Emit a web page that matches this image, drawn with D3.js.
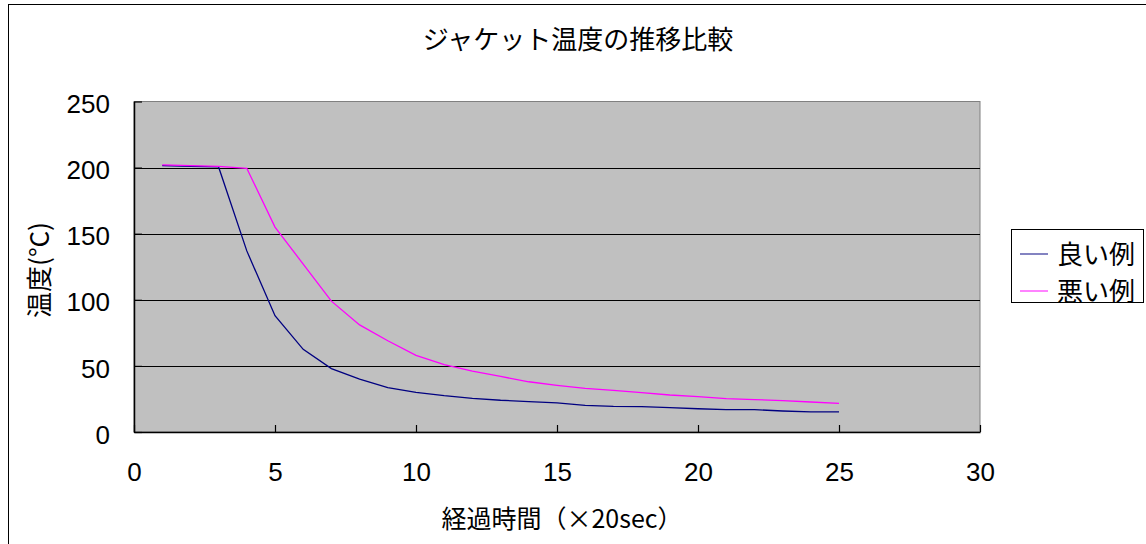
<!DOCTYPE html>
<html>
<head>
<meta charset="utf-8">
<script src="https://cdn.jsdelivr.net/npm/d3@7"></script>
<style>
  html, body { margin: 0; padding: 0; background: #ffffff; }
  svg { display: block; }
  text { fill: #000; }
</style>
</head>
<body>
<script>
// Elapsed time steps (x 20 sec)
const steps = [1,2,3,4,5,6,7,8,9,10,11,12,13,14,15,16,17,18,19,20,21,22,23,24,25];
// Jacket temperature (°C) – good example
const goodTemps = [201.5,201,200.5,137,88,62.5,48,40,33.5,30,27.5,25.5,24,23,22,20.2,19.4,19.2,18.4,17.6,16.9,16.9,15.9,15.2,15.2];
// Jacket temperature (°C) – bad example
const badTemps = [202,201.5,201,199.5,155,127,99,81,69,58,51,46,42,38,35.3,33,31.5,29.8,28,26.7,25.2,24.5,23.7,22.7,21.7];
const seriesNames = ["良い例", "悪い例"];
const xTicks = [0,5,10,15,20,25,30];
const yTicks = [0,50,100,150,200,250];
const titleText = "ジャケット温度の推移比較";
const xTitle = "経過時間（×20sec）";
const yTitle = "温度(°C)";

const W = 1146, H = 544;
const plotL = 134, plotR = 980, plotT = 101.5, plotB = 432;
const colors = ["#000080", "#FF00FF"];
const jpFont = "'Noto Sans CJK JP', sans-serif";
const numFont = "'Liberation Sans', Arial, sans-serif";

const svg = d3.select("body").append("svg").attr("width", W).attr("height", H);

// Outer chart frame
svg.append("rect").attr("x", 8.5).attr("y", 4.5).attr("width", W + 20).attr("height", H + 20)
  .attr("fill", "#fff").attr("stroke", "#000").attr("stroke-width", 1);

const x = d3.scaleLinear().domain([0, 30]).range([plotL, plotR]);
const y = d3.scaleLinear().domain([0, 250]).range([plotB, plotT]);

// Plot area
svg.append("rect").attr("x", plotL).attr("y", plotT).attr("width", plotR - plotL).attr("height", plotB - plotT)
  .attr("fill", "#C0C0C0").attr("stroke", "#808080").attr("stroke-width", 1);

// Horizontal gridlines
svg.append("g").selectAll("line").data(yTicks.filter(d => d > 0 && d < 250)).join("line")
  .attr("x1", plotL).attr("x2", plotR)
  .attr("y1", d => Math.round(y(d)) + 0.5).attr("y2", d => Math.round(y(d)) + 0.5)
  .attr("stroke", "#000").attr("stroke-width", 1);

// Axes
const xAxis = svg.append("g").attr("transform", `translate(0,${plotB})`)
  .call(d3.axisBottom(x).tickValues(xTicks).tickSize(-7).tickSizeOuter(0).tickPadding(31));
const yAxis = svg.append("g").attr("transform", `translate(${plotL},0)`)
  .call(d3.axisLeft(y).tickValues(yTicks).tickSize(-8).tickSizeOuter(0).tickPadding(24));
[xAxis, yAxis].forEach(g => {
  g.select(".domain").attr("stroke", "#000").attr("stroke-width", 1.5);
  g.selectAll(".tick line").attr("stroke", "#000").attr("stroke-width", 1.2);
  g.selectAll(".tick text").attr("font-family", numFont).attr("font-size", 26).attr("fill", "#000");
});
yAxis.selectAll(".tick text").attr("dy", "0.43em");

// Series lines
const line = d3.line().x((d, i) => x(steps[i])).y(d => y(d));
[goodTemps, badTemps].forEach((vals, i) => {
  svg.append("path").datum(vals).attr("d", line)
    .attr("fill", "none").attr("stroke", colors[i]).attr("stroke-width", 1.3);
});

// Title
svg.append("text").attr("x", 578).attr("y", 49).attr("text-anchor", "middle")
  .attr("font-family", jpFont).attr("font-size", 26).text(titleText);

// Axis titles
svg.append("text").attr("x", 562).attr("y", 528).attr("text-anchor", "middle")
  .attr("font-family", jpFont).attr("font-size", 25).text(xTitle);
svg.append("text").attr("transform", "translate(49,270) rotate(-90)").attr("text-anchor", "middle")
  .attr("font-family", jpFont).attr("font-size", 26).text(yTitle);

// Legend
const lg = svg.append("g");
lg.append("rect").attr("x", 1011.5).attr("y", 229.5).attr("width", 132).attr("height", 73)
  .attr("fill", "#fff").attr("stroke", "#000").attr("stroke-width", 1);
seriesNames.forEach((name, i) => {
  const ly = 254 + i * 37;
  lg.append("line").attr("x1", 1020).attr("x2", 1048).attr("y1", ly).attr("y2", ly)
    .attr("stroke", colors[i]).attr("stroke-width", 1.3).attr("opacity", 0.75);
  lg.append("text").attr("x", 1057).attr("y", ly + 10)
    .attr("font-family", jpFont).attr("font-size", 26).text(name);
});
</script>
</body>
</html>
